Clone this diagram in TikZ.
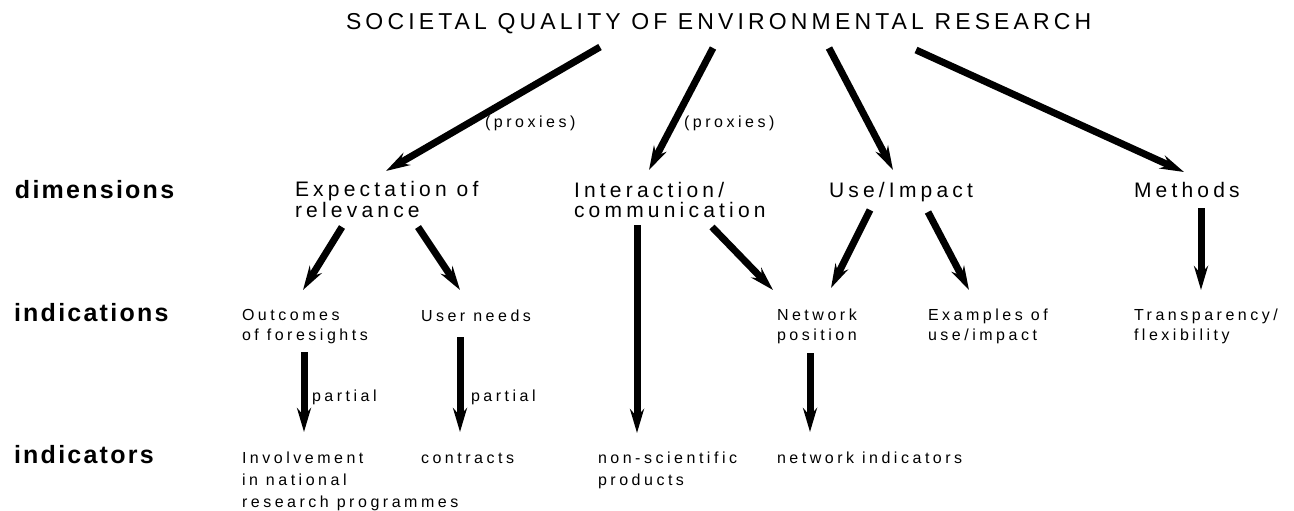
\documentclass[tikz,border=0pt]{standalone}
\usepackage{fontspec}
\setmainfont{Liberation Sans}
\newfontfamily\titleface[LetterSpace=18]{Liberation Sans}
\newfontfamily\wideface[LetterSpace=20]{Liberation Sans}
\newfontfamily\smallface[LetterSpace=22]{Liberation Sans}
\newfontfamily\rowface[LetterSpace=9]{Liberation Sans}
\usetikzlibrary{arrows.meta}

\begin{document}
\begin{tikzpicture}[x=1pt,y=-1pt,
  every node/.style={inner sep=0pt, outer sep=0pt, anchor=base west},
  arr/.style={line width=7pt, -{Stealth[length=24pt,width=14pt,inset=8pt]}},
  head/.style={font=\titleface\fontsize{23}{24}\selectfont},
  dim/.style={font=\wideface\fontsize{21}{19.5}\selectfont, align=left},
  ind/.style={font=\smallface\fontsize{16}{19.5}\selectfont, align=left},
  indc/.style={font=\smallface\fontsize{16}{22}\selectfont, align=left},
  row/.style={font=\rowface\bfseries\fontsize{25}{26}\selectfont}]
\useasboundingbox (0,0) rectangle (1294,511);

\node[head] (title) at (346,30) {SOCIETAL QUALITY OF ENVIRONMENTAL RESEARCH};
\node[ind] (proxl) at (485,128) {(proxies)};
\node[ind] (proxr) at (684,128) {(proxies)};

\node[row] (dims) at (15,198) {dimensions};
\node[dim] (expect) at (295,217) {Expectation of\\relevance};
\node[dim] (interact) at (574,217) {Interaction/\\communication};
\node[dim] (use) at (829,197) {Use/Impact};
\node[dim] (methods) at (1134,197) {Methods};

\node[row] (indications) at (14,321) {indications};
\node[ind] (outcomes) at (242,340) {Outcomes\\of foresights};
\node[ind] (needs) at (421,321) {User needs};
\node[ind] (network) at (777,340) {Network\\position};
\node[ind] (examples) at (928,340) {Examples of\\use/impact};
\node[ind] (transp) at (1134,340) {Transparency/\\flexibility};

\node[ind] (partl) at (312,401) {partial};
\node[ind] (partr) at (471,401) {partial};

\node[row] (indicators) at (14,463) {indicators};
\node[indc] (involve) at (242,507) {Involvement\\in national\\research programmes};
\node[indc] (contracts) at (421,463) {contracts};
\node[indc] (nonsci) at (598,485) {non-scientific\\products};
\node[indc] (netind) at (777,463) {network indicators};

\draw[arr] ([shift={(254,17)}]title.base west) -- ([shift={(91,-46)}]expect.base west);
\draw[arr] ([shift={(367,18)}]title.base west) -- ([shift={(75,-47)}]interact.base west);
\draw[arr] ([shift={(483,18)}]title.base west) -- ([shift={(64,-27)}]use.base west);
\draw[arr] ([shift={(570,20)}]title.base west) -- ([shift={(50,-25)}]methods.base west);

\draw[arr] ([shift={(47,10)}]expect.base west) -- ([shift={(61,-50)}]outcomes.base west);
\draw[arr] ([shift={(123,10)}]expect.base west) -- ([shift={(39,-31)}]needs.base west);
\draw[arr] ([shift={(63,8)}]interact.base west) -- ([shift={(39,-52)}]nonsci.base west);
\draw[arr] ([shift={(138,10)}]interact.base west) -- ([shift={(-4,-50)}]network.base west);
\draw[arr] ([shift={(41,13)}]use.base west) -- ([shift={(54,-52)}]network.base west);
\draw[arr] ([shift={(99,15)}]use.base west) -- ([shift={(41,-50)}]examples.base west);
\draw[arr] ([shift={(67,11)}]methods.base west) -- ([shift={(67,-50)}]transp.base west);

\draw[arr] ([shift={(62,12)}]outcomes.base west) -- ([shift={(62,-75)}]involve.base west);
\draw[arr] ([shift={(39,16)}]needs.base west) -- ([shift={(39,-31)}]contracts.base west);
\draw[arr] ([shift={(33,13)}]network.base west) -- ([shift={(33,-31)}]netind.base west);
\end{tikzpicture}
\end{document}
